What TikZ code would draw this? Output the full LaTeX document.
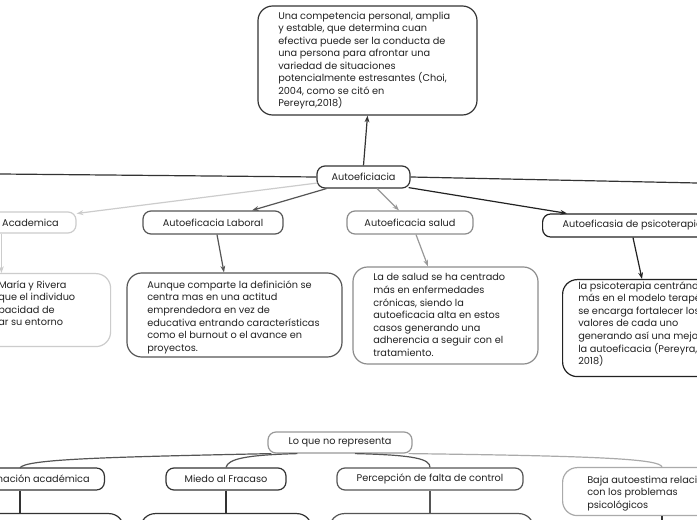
\documentclass[tikz,border=0pt]{standalone}
\usepackage{fontspec}
\setmainfont{Poppins}
\usetikzlibrary{arrows.meta,calc}
\definecolor{txt}{HTML}{222222}
\definecolor{cdark}{HTML}{333333}
\definecolor{cacad}{HTML}{CCCCCC}
\definecolor{clab}{HTML}{555555}
\definecolor{csal}{HTML}{8C8C8C}
\definecolor{cpsi}{HTML}{222222}
\definecolor{clq}{HTML}{999999}
\definecolor{cbaja}{HTML}{AAAAAA}
\begin{document}
\begin{tikzpicture}[x=0.75pt,y=-0.75pt,
  every node/.style={font=\fontsize{7.3}{9.4}\selectfont, text=txt},
  box/.style={draw, rounded corners=6pt, line width=0.9pt, inner sep=0pt, fill=white},
  bigbox/.style={box, rounded corners=11pt},
  tx/.style={anchor=north west, align=left, inner sep=0pt},
  arr/.style={line width=0.9pt, -{Stealth[length=5pt,width=3.6pt]}},
  ln/.style={line width=0.9pt},
]
\useasboundingbox (0,0) rectangle (697,520);
\clip (0,0) rectangle (697,520);
\fill[white] (0,0) rectangle (697,520);

% ---------- upper part ----------
\node[bigbox, draw=cdark, minimum width=164.25pt, minimum height=81.75pt] (top) at (367.5,60.5) {};
\node[tx] (toptx) at (278,11.5) {Una competencia personal, amplia\\y estable, que determina cuan\\efectiva puede ser la conducta de\\una persona para afrontar una\\variedad de situaciones\\potencialmente estresantes (Choi,\\2004, como se citó en\\Pereyra,2018)};

\node[box, draw=cdark, minimum width=69.75pt, minimum height=16.5pt] (auto) at (363.5,177) {Autoeficiacia};

\node[box, draw=cacad, minimum width=68.25pt, minimum height=15.75pt] (acad) at (30.5,222.5) {Academica};
\node[box, draw=clab, minimum width=105pt, minimum height=17.25pt] (lab) at (213,222.5) {Autoeficacia Laboral};
\node[box, draw=csal, minimum width=94.5pt, minimum height=17.25pt] (sal) at (410,222.5) {Autoeficacia salud};
\node[box, draw=cpsi, anchor=west, inner xsep=12pt, minimum width=135pt, minimum height=17.25pt] (psi) at (542,225.5) {Autoeficasia de psicoterapia};

% text boxes
\node[bigbox, draw=cacad, anchor=north west, minimum width=127.5pt, minimum height=54.75pt] (acadt) at (-60,273) {};
\node[tx] (acadtx) at (-2,280.5) {María y Rivera\\que el individuo\\pacidad de\\ar su entorno};

\node[bigbox, draw=clab, minimum width=161.25pt, minimum height=63pt] (labt) at (234.5,315) {};
\node[tx] (labtx) at (147,280.5) {Aunque comparte la definición se\\centra mas en una actitud\\emprendedora en vez de\\educativa entrando características\\como el burnout o el avance en\\proyectos.};

\node[bigbox, draw=csal, minimum width=138.75pt, minimum height=72.75pt] (salt) at (445.5,315.5) {};
\node[tx] (saltx) at (373,273.5) {La de salud se ha centrado\\más en enfermedades\\crónicas, siendo la\\autoeficacia alta en estos\\casos generando una\\adherencia a seguir con el\\tratamiento.};

\node[bigbox, draw=cpsi, anchor=north west, minimum width=150pt, minimum height=72.75pt] (psit) at (562,279) {};
\node[tx] (psitx) at (578,281.5) {la psicoterapia centrándose\\más en el modelo terapéutico\\se encarga fortalecer los\\valores de cada uno\\generando así una mejora de\\la autoeficacia (Pereyra,\\2018)};

% connectors, upper part
\coordinate (leftend) at (0,174);
\coordinate (rightend) at (697,183);
\draw[ln, cdark] (auto.west) -- (leftend);
\draw[ln, cdark] (auto.east) -- (rightend);
\draw[arr, cdark] (auto.north) -- (top.south);
\draw[arr, cacad] ($(auto.west)+(1,6)$) -- ($(acad.east)+(0,-9)$);
\draw[arr, clab] ($(auto.south west)+(10,0)$) -- ($(lab.north)+(39,0)$);
\draw[arr, clq] ($(auto.south)+(13.5,0)$) -- ($(sal.north)+(-11,0)$);
\draw[arr, cpsi] ($(auto.south east)+(-2,-1)$) -- ($(psi.north west)+(25,0)$);

\coordinate (a1) at ($(acad.south west)+(17,0)$);
\draw[arr, cacad] (a1) -- (a1 |- acadt.north);
\draw[arr, clab] ($(lab.south)+(4,0)$) -- ($(labt.north)+(-10.5,0)$);
\draw[arr, clq] ($(sal.south)+(6,0)$) -- ($(salt.north)+(-17.5,0)$);
\draw[arr, cpsi] ($(psi.south west)+(91,0)$) -- ($(psit.north west)+(80,0)$);

% ---------- lower part ----------
\node[box, draw=clq, minimum width=108pt, minimum height=15.75pt] (lq) at (340,442.5) {Lo que no representa};

\node[box, draw=cdark, anchor=east, inner xsep=11pt, minimum height=16.5pt] (form) at (105,479) {Procrastinación académica};
\node[box, draw=cdark, minimum width=90pt, minimum height=16.5pt] (miedo) at (226,479) {Miedo al Fracaso};
\node[box, draw=clab, minimum width=139.5pt, minimum height=16.5pt] (perc) at (430,479) {Percepción de falta de control};
\node[bigbox, draw=cbaja, anchor=north west, minimum width=150pt, minimum height=36pt] (baja) at (562,467) {};
\node[tx] (bajatx) at (587,475.5) {Baja autoestima relacionada\\con los problemas\\psicológicos};

\coordinate (f1) at (20,468);
\draw[ln, clab] ($(lq.south west)+(4,0)$) .. controls (110,457) and (24,459) .. (f1);
\draw[ln, clab] ($(lq.south west)+(30,0)$) .. controls (245,455) and (228,459) .. (miedo.north);
\draw[ln, clab] ($(lq.south)+(15,0)$) .. controls (415,455) and (430,459) .. (perc.north);
\draw[ln, cbaja] ($(lq.south east)+(-4,0)$) .. controls (600,456) and (660,459) .. ($(baja.north west)+(100,0)$);

% bottom boxes
\node[bigbox, draw=cdark, anchor=north west, minimum width=122.25pt, minimum height=45pt] (b1) at (-40,513) {};
\node[bigbox, draw=cdark, anchor=north west, minimum width=128.25pt, minimum height=45pt] (b2) at (140,513) {};
\node[bigbox, draw=clab, anchor=north west, minimum width=153pt, minimum height=45pt] (b3) at (329,513) {};
\coordinate (b4) at (662,520);

\draw[ln, cdark] (f1 |- form.south) -- (f1 |- b1.north);
\draw[ln, cdark] (miedo.south) -- (miedo.south |- b2.north);
\draw[ln, clab] (perc.south) -- (perc.south |- b3.north);
\draw[ln, cdark] (b4 |- baja.south) -- (b4);
\end{tikzpicture}
\end{document}
